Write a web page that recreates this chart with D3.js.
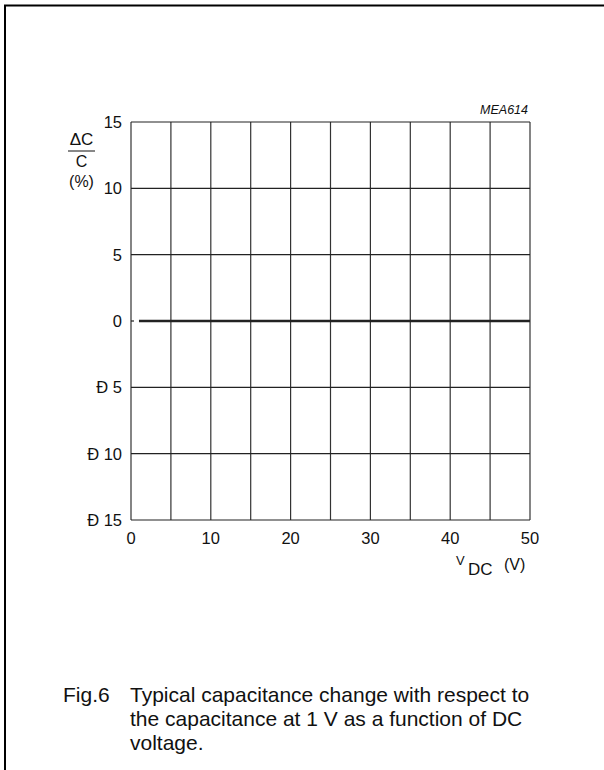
<!DOCTYPE html>
<html><head><meta charset="utf-8">
<script src="https://cdn.jsdelivr.net/npm/d3@7"></script>
<style>body{margin:0;background:#fff}svg text{font-family:Arial,"Liberation Sans",sans-serif;fill:#111}</style>
</head><body><svg id="c" width="604" height="770"></svg>
<script>
const voltage = [1, 5, 10, 15, 20, 25, 30, 35, 40, 45, 50];
const capChange = [0, 0, 0, 0, 0, 0, 0, 0, 0, 0, 0];
const xTicks = [0, 10, 20, 30, 40, 50];
const xGrid = [0, 5, 10, 15, 20, 25, 30, 35, 40, 45, 50];
const yTicks = [15, 10, 5, 0, -5, -10, -15];
const yTickLabels = ["15", "10", "5", "0", "Đ 5", "Đ 10", "Đ 15"];
const captionLines = ["Typical capacitance change with respect to", "the capacitance at 1 V as a function of DC", "voltage."];

const svg = d3.select("#c");
svg.append("rect").attr("x",5).attr("y",5.5).attr("width",610).attr("height",780)
  .attr("fill","none").attr("stroke","#000").attr("stroke-width",2);

const x = d3.scaleLinear().domain([0,50]).range([131,530]);
const y = d3.scaleLinear().domain([-15,15]).range([520,122]);

const g = svg.append("g");
g.selectAll(".vg").data(xGrid).enter().append("line")
  .attr("x1",d=>x(d)).attr("x2",d=>x(d)).attr("y1",y(15)).attr("y2",y(-15))
  .attr("stroke","#333").attr("stroke-width",1.2);
g.selectAll(".hg").data(yTicks.filter(d=>d!==0)).enter().append("line")
  .attr("x1",x(0)).attr("x2",x(50)).attr("y1",d=>y(d)).attr("y2",d=>y(d))
  .attr("stroke","#222").attr("stroke-width",1.1);
g.append("line").attr("x1",x(0)).attr("x2",x(0)+3).attr("y1",y(0)).attr("y2",y(0))
  .attr("stroke","#222").attr("stroke-width",1.2);

g.selectAll(".yl").data(yTicks).enter().append("text")
  .attr("x",122).attr("y",d=>y(d)).attr("dy","0.36em").attr("text-anchor","end")
  .attr("font-size",16.5).text((d,i)=>yTickLabels[i]);
g.selectAll(".xl").data(xTicks).enter().append("text")
  .attr("x",d=>x(d)).attr("y",544).attr("text-anchor","middle")
  .attr("font-size",16.5).text(d=>d);

const line = d3.line().x(d=>x(d[0])).y(d=>y(d[1]));
g.append("path").datum(voltage.map((v,i)=>[v,capChange[i]]))
  .attr("d",line).attr("fill","none").attr("stroke","#222").attr("stroke-width",2.6);

svg.append("text").attr("x",81.5).attr("y",145).attr("text-anchor","middle").attr("font-size",17).text("ΔC");
svg.append("line").attr("x1",68).attr("x2",95).attr("y1",151).attr("y2",151).attr("stroke","#111").attr("stroke-width",1);
svg.append("text").attr("x",81.5).attr("y",167).attr("text-anchor","middle").attr("font-size",16).text("C");
svg.append("text").attr("x",81.5).attr("y",187).attr("text-anchor","middle").attr("font-size",16).text("(%)");

svg.append("text").attr("x",456).attr("y",565).attr("font-size",13).text("V");
svg.append("text").attr("x",468).attr("y",575).attr("font-size",17).text("DC");
svg.append("text").attr("x",504).attr("y",570).attr("font-size",16).text("(V)");

svg.append("text").attr("x",528).attr("y",114).attr("text-anchor","end").attr("font-size",12.5)
  .attr("font-style","italic").text("MEA614");

svg.append("text").attr("x",63).attr("y",702).attr("font-size",21).text("Fig.6");
svg.selectAll(".cap").data(captionLines).enter().append("text")
  .attr("x",130).attr("y",(d,i)=>702+i*24).attr("font-size",21).text(d=>d);
</script></body></html>
